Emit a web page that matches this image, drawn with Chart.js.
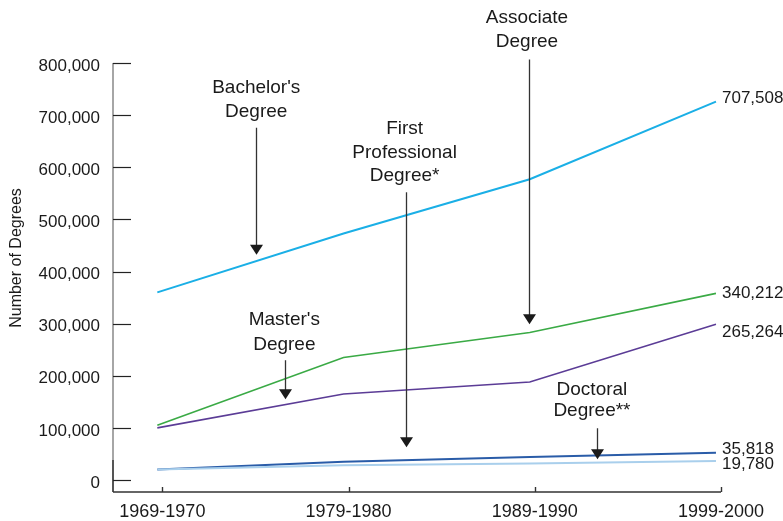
<!DOCTYPE html>
<html><head><meta charset="utf-8">
<script src="https://cdn.jsdelivr.net/npm/chart.js@4.4.1/dist/chart.umd.min.js"></script>
<style>html,body{margin:0;padding:0;background:#fff}#wrap{width:783px;height:521px;position:relative}</style>
</head><body><div id="wrap"><canvas id="c" width="783" height="521"></canvas></div>
<script>
// ---- data ----
const categories = ['1969-1970', '1979-1980', '1989-1990', '1999-2000'];
const bachelors = [360000, 473000, 577000, 726000];
const associate = [105000, 235000, 283000, 358000];
const masters = [100000, 165000, 188000, 299000];
const firstProfessional = [20000, 35000, 44000, 52500];
const doctoral = [20000, 28500, 31500, 36500];
const endLabels = ['707,508', '340,212', '265,264', '35,818', '19,780'];
const yTickValues = [0, 100000, 200000, 300000, 400000, 500000, 600000, 700000, 800000];
const yTitle = 'Number of Degrees';
const annotationTexts = [
  ["Bachelor's", 'Degree'],
  ['Associate', 'Degree'],
  ['First', 'Professional', 'Degree*'],
  ["Master's", 'Degree'],
  ['Doctoral', 'Degree**']
];

// ---- styling / placement (in data units) ----
const seriesStyle = [
  {color: '#1AAFE6', width: 2, labelDy: -3},
  {color: '#3AAA45', width: 1.6, labelDy: 0},
  {color: '#5B3C96', width: 1.6, labelDy: 8},
  {color: '#2A5CA8', width: 2, labelDy: -3},
  {color: '#A9CFEC', width: 2, labelDy: 3}
];
const annotationPlace = [
  {tx: 0.531, ax: 0.531, lines: [752500, 706500], from: 675800, tip: 432300},
  {tx: 1.985, ax: 1.998, lines: [887000, 840000], from: 806500, tip: 298800},
  {tx: 1.328, ax: 1.333, lines: [674700, 628700, 583600], from: 552000, tip: 62900},
  {tx: 0.682, ax: 0.687, lines: [307800, 260400], from: 229800, tip: 155000},
  {tx: 2.334, ax: 2.359, lines: [172600, 132500], from: 99300, tip: 39900}
];
const tickShift = 0.027;
const FONT = "'Liberation Sans', Arial, Helvetica, sans-serif";

const seriesValues = [bachelors, associate, masters, firstProfessional, doctoral];
const seriesNames = ["Bachelor's Degree", 'Associate Degree', "Master's Degree", 'First Professional Degree*', 'Doctoral Degree**'];

const datasets = seriesValues.map((vals, s) => ({
  label: seriesNames[s],
  data: vals.map((v, i) => ({x: i, y: v})),
  borderColor: seriesStyle[s].color,
  borderWidth: seriesStyle[s].width,
  pointRadius: 0,
  tension: 0,
  fill: false
}));
// draw darker lines last so they sit on top
datasets.reverse();
datasets.push(datasets.splice(datasets.findIndex(d => d.label.startsWith('First')), 1)[0]);

const decor = {
  id: 'decor',
  afterDraw(chart) {
    const ctx = chart.ctx;
    const xs = chart.scales.x, ys = chart.scales.y;
    const a = chart.chartArea;
    ctx.save();
    // y axis line
    ctx.lineWidth = 1.4;
    ctx.strokeStyle = '#808080';
    ctx.beginPath(); ctx.moveTo(a.left, a.top); ctx.lineTo(a.left, a.bottom); ctx.stroke();
    ctx.strokeStyle = '#333';
    ctx.beginPath(); ctx.moveTo(a.left, a.bottom - 32); ctx.lineTo(a.left, a.bottom); ctx.stroke();
    // y ticks (inward)
    ctx.lineWidth = 1.2;
    ctx.strokeStyle = '#222';
    yTickValues.forEach(v => {
      const y = Math.round(ys.getPixelForValue(v)) + 0.5;
      ctx.beginPath(); ctx.moveTo(a.left, y); ctx.lineTo(a.left + 18, y); ctx.stroke();
    });
    // x axis line + ticks
    ctx.strokeStyle = '#333';
    ctx.lineWidth = 1.4;
    ctx.beginPath(); ctx.moveTo(a.left, a.bottom); ctx.lineTo(a.right, a.bottom); ctx.stroke();
    categories.forEach((c, i) => {
      const x = Math.round(xs.getPixelForValue(i + tickShift)) + 0.5;
      ctx.beginPath(); ctx.moveTo(x, a.bottom); ctx.lineTo(x, a.bottom - 5); ctx.stroke();
    });
    // end labels
    ctx.fillStyle = '#1a1a1a';
    ctx.font = '17px ' + FONT;
    ctx.textAlign = 'left';
    ctx.textBaseline = 'middle';
    seriesValues.forEach((vals, s) => {
      const last = vals.length - 1;
      const px = xs.getPixelForValue(last + tickShift) + 1;
      const py = ys.getPixelForValue(vals[last]) + seriesStyle[s].labelDy;
      ctx.fillText(endLabels[s], px, py);
    });
    // annotations
    ctx.font = '19px ' + FONT;
    ctx.textAlign = 'center';
    annotationTexts.forEach((lines, k) => {
      const p = annotationPlace[k];
      const tx = xs.getPixelForValue(p.tx);
      lines.forEach((t, j) => ctx.fillText(t, tx, ys.getPixelForValue(p.lines[j])));
      const ax = Math.round(xs.getPixelForValue(p.ax)) + 0.5;
      const y0 = ys.getPixelForValue(p.from), y1 = ys.getPixelForValue(p.tip);
      ctx.strokeStyle = '#333';
      ctx.lineWidth = 1.3;
      ctx.beginPath(); ctx.moveTo(ax, y0); ctx.lineTo(ax, y1 - 8); ctx.stroke();
      ctx.fillStyle = '#1a1a1a';
      ctx.beginPath(); ctx.moveTo(ax - 6.5, y1 - 10); ctx.lineTo(ax + 6.5, y1 - 10); ctx.lineTo(ax, y1); ctx.closePath(); ctx.fill();
    });
    // y title
    ctx.save();
    ctx.translate(17, 258);
    ctx.rotate(-Math.PI / 2);
    ctx.font = '16px ' + FONT;
    ctx.textAlign = 'center';
    ctx.textBaseline = 'middle';
    ctx.fillStyle = '#1a1a1a';
    ctx.fillText(yTitle, 0, 0);
    ctx.restore();
    ctx.restore();
  }
};

new Chart(document.getElementById('c'), {
  type: 'line',
  data: {datasets},
  options: {
    responsive: false,
    animation: false,
    devicePixelRatio: 1,
    layout: {padding: {top: 63, right: 62, left: 0, bottom: 0}},
    plugins: {legend: {display: false}, tooltip: {enabled: false}},
    scales: {
      x: {
        type: 'linear',
        min: -0.238,
        max: 3 + tickShift,
        grid: {display: false, drawTicks: false},
        border: {display: false},
        afterBuildTicks: s => { s.ticks = categories.map((c, i) => ({value: i + tickShift})); },
        afterFit: s => { s.height = 29; },
        ticks: {
          autoSkip: false,
          maxRotation: 0,
          padding: 9,
          color: '#1a1a1a',
          font: {family: FONT, size: 18},
          callback: v => categories[Math.round(v - tickShift)]
        }
      },
      y: {
        type: 'linear',
        min: -23000,
        max: 800000,
        grid: {display: false, drawTicks: false},
        border: {display: false},
        afterBuildTicks: s => { s.ticks = yTickValues.map(v => ({value: v})); },
        afterFit: s => { s.width = 113; },
        ticks: {
          padding: 13,
          labelOffset: 3,
          color: '#1a1a1a',
          font: {family: FONT, size: 17},
          callback: v => v.toLocaleString('en-US')
        }
      }
    }
  },
  plugins: [decor]
});
</script>
</body></html>
